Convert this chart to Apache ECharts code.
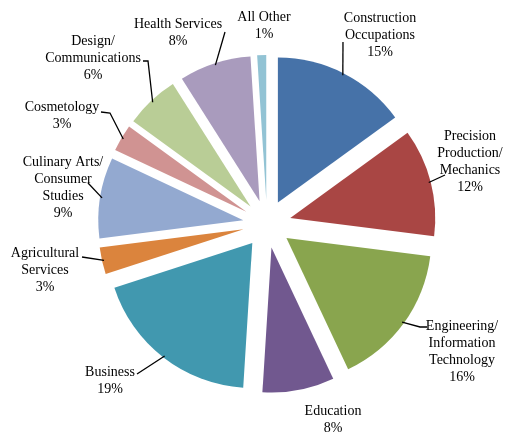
<!DOCTYPE html>
<html><head><meta charset="utf-8">
<script src="https://cdn.jsdelivr.net/npm/echarts@6/dist/echarts.min.js"></script>
<style>html,body{margin:0;padding:0;background:#fff}#c{width:506px;height:435px}</style>
</head><body><div id="c"></div>
<script>
const categories = ['Construction\nOccupations','Precision\nProduction/\nMechanics','Engineering/\nInformation\nTechnology','Education','Business','Agricultural\nServices','Culinary Arts/\nConsumer\nStudies','Cosmetology','Design/\nCommunications','Health Services','All Other'];
const values = [15,12,16,8,19,3,9,3,6,8,1];
const colors = ['#4672A8','#A94644','#89A54E','#71588F','#4198AF','#DB843D','#93A9D0','#D09392','#B9CD96','#A99BBD','#92C3D4'];

// label placement (text centre) and leader-line end points (leader starts at slice mid-arc)
const labelPos = [[380,35],[470,162],[462,352],[333,420],[110,381],[45,270],[63,188],[62,116],[93,58],[178,33],[264,26]];
const leader = [
  [[343,42]],
  [[445,175]],
  [[420,327],[427,327]],
  null,
  [[137,374]],
  [[82,257]],
  [[88,183]],
  [[110,113],[101,112]],
  [[148,61],[143,61]],
  [[225,32]],
  null
];
const OFFSET = 24;

const chart = echarts.init(document.getElementById('c'), null, {renderer:'canvas'});
chart.setOption({
  animation:false,
  series:[{
    type:'pie',
    center:[267,224],
    radius:[0,145],
    startAngle:90,
    clockwise:true,
    selectedMode:'multiple',
    selectedOffset:OFFSET,
    emphasis:{disabled:true},
    label:{show:false},
    labelLine:{show:false},
    data: categories.map((n,i)=>({name:n,value:values[i],selected:true,itemStyle:{color:colors[i]}}))
  }]
});

const data = chart.getModel().getSeriesByIndex(0).getData();
const graphics = [];
for (let i = 0; i < values.length; i++) {
  const L = data.getItemLayout(i);
  const mid = (L.startAngle + L.endAngle) / 2;
  const dx = Math.cos(mid) * OFFSET, dy = Math.sin(mid) * OFFSET;
  const ld = leader[i];
  if (ld) {
    const r = L.r - 2;
    const start = [L.cx + dx + Math.cos(mid) * r, L.cy + dy + Math.sin(mid) * r];
    graphics.push({type:'polyline', silent:true, z:10, shape:{points:[start].concat(ld)}, style:{stroke:'#000', lineWidth:1.3, fill:null}});
  }
  graphics.push({type:'text', silent:true, z:10, x:labelPos[i][0], y:labelPos[i][1],
    style:{text:categories[i] + '\n' + values[i] + '%', font:'14px "Liberation Serif"', fill:'#000',
      textAlign:'center', textVerticalAlign:'middle', align:'center', verticalAlign:'middle', lineHeight:17}});
}
chart.setOption({graphic:graphics});
</script></body></html>
